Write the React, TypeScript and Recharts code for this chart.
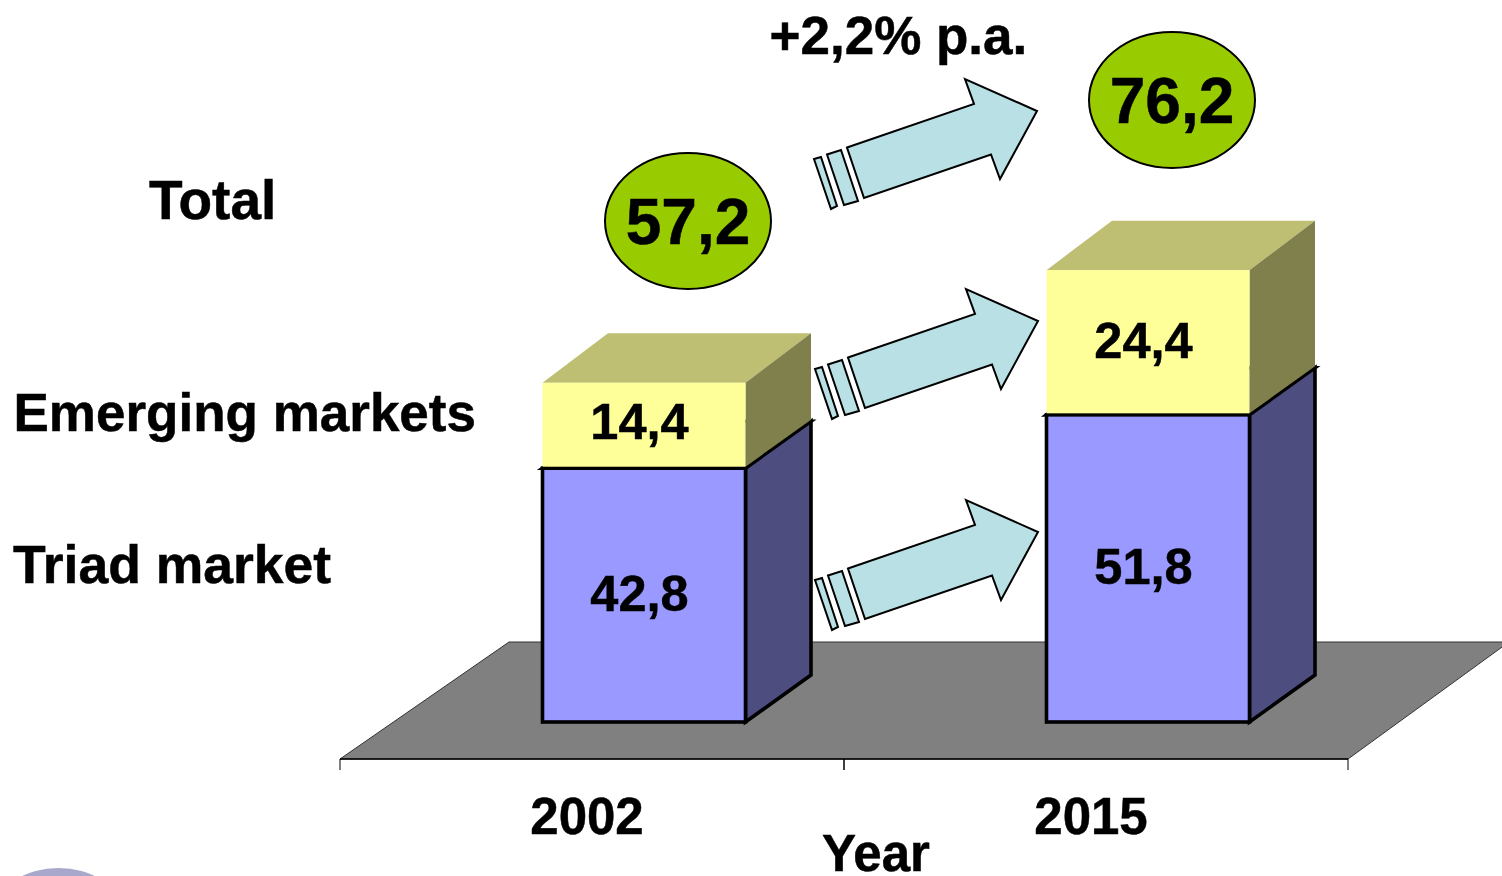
import { BarChart, Bar, XAxis, YAxis, LabelList, Label } from 'recharts';

const YEARS = ['2002', '2015'];
const TRIAD = [42.8, 51.8];
const EMERGING = [14.4, 24.4];
const TOTALS = ['57,2', '76,2'];
const ROW_LABELS = ['Total', 'Emerging markets', 'Triad market'];
const GROWTH_LABEL = '+2,2% p.a.';

const chartData = YEARS.map((year, i) => ({ year, triad: TRIAD[i], emerging: EMERGING[i] }));

const FONT = '"Liberation Sans", Arial, sans-serif';
// Bars stand in the middle of the floor, so everything is shifted back from the axis
const SHIFT_X = 51.5;
const SHIFT_Y = -37;
const DEPTH_X = 65.5;
const DEPTH_Y = -47;
const BAND = 504;

const ARROW_OFFSETS = [
  [0, 0],
  [0, -211],
  [-1, -421],
];

function Box3D(props: any) {
  const { x, y, width, height, front, top, side, outlined } = props;
  const l = x + SHIFT_X;
  const r = l + width;
  const t = y + SHIFT_Y;
  // keep the outline of the box underneath visible
  const b = t + height - (outlined ? 0 : 1.5);
  // the upper box rises a little more than the lower one
  const rise = outlined ? DEPTH_Y : DEPTH_Y - 2.5;
  const stroke = outlined ? '#000' : 'none';
  const sw = outlined ? 3.6 : 0;
  return (
    <g>
      <polygon
        points={`${l},${t} ${l + DEPTH_X},${t + rise} ${r + DEPTH_X},${t + rise} ${r},${t}`}
        fill={top}
        stroke={stroke}
        strokeWidth={sw}
      />
      <polygon
        points={`${r},${t} ${r + DEPTH_X},${t + rise} ${r + DEPTH_X},${b + DEPTH_Y} ${r},${b}`}
        fill={side}
        stroke={stroke}
        strokeWidth={sw}
      />
      <rect x={l} y={t} width={width} height={b - t} fill={front} stroke={stroke} strokeWidth={sw} />
    </g>
  );
}

function ValueLabel(props: any) {
  const { x, y, width, height, value } = props;
  // the 14,4 label sits a bit above the middle of its short box
  const nudge = height < 100 ? -3 : 0;
  return (
    <text
      x={x + SHIFT_X + width / 2 - 4.5}
      y={y + SHIFT_Y + height / 2 + 16 + nudge}
      textAnchor="middle"
      fontFamily={FONT}
      fontWeight="bold"
      fontSize={50.5}
      fill="#000"
      stroke="#000"
      strokeWidth={0.5}
    >
      {String(value).replace('.', ',')}
    </text>
  );
}

function YearTick(props: any) {
  const { x, payload } = props;
  return (
    <g>
      <line x1={x - BAND / 2} x2={x - BAND / 2} y1={759} y2={770} stroke="#000" strokeWidth={1} />
      <line x1={x + BAND / 2} x2={x + BAND / 2} y1={759} y2={770} stroke="#000" strokeWidth={1} />
      <text
        x={x - 5}
        y={834}
        textAnchor="middle"
        fontFamily={FONT}
        fontWeight="bold"
        fontSize={51}
        fill="#000"
        stroke="#000"
        strokeWidth={0.5}
      >
        {payload.value}
      </text>
    </g>
  );
}

function GrowthArrow({ dx, dy }: { dx: number; dy: number }) {
  return (
    <g transform={`translate(${dx},${dy})`} fill="#B9E0E4" stroke="#000" strokeWidth={2} strokeLinejoin="miter">
      <polygon points="848,568.5 975,525 966,500 1038,532 1001,600 992,575.5 865,619" />
      <polygon points="828,575.5 842,571 859,622 845,626" />
      <polygon points="815,580 822,578 838,627 832,630" />
    </g>
  );
}

function TotalBadge({ cx, cy, value }: { cx: number; cy: number; value: string }) {
  return (
    <g>
      <ellipse cx={cx} cy={cy} rx={83} ry={68} fill="#99CC00" stroke="#000" strokeWidth={2} />
      <text
        x={cx}
        y={cy + 23}
        textAnchor="middle"
        fontFamily={FONT}
        fontWeight="bold"
        fontSize={64}
        fill="#000"
        stroke="#000"
        strokeWidth={0.5}
      >
        {value}
      </text>
    </g>
  );
}

function SideText({ x, y, size = 53, children }: { x: number; y: number; size?: number; children: string }) {
  return (
    <text x={x} y={y} fontFamily={FONT} fontWeight="bold" fontSize={size} fill="#000" stroke="#000" strokeWidth={0.5}>
      {children}
    </text>
  );
}

export default function App() {
  return (
    <div style={{ position: 'absolute', left: 0, top: 0, width: 1502, height: 876, overflow: 'hidden', background: '#fff' }}>
      <BarChart
        width={1502}
        height={876}
        data={chartData}
        barSize={203}
        margin={{ top: 166, right: 154, bottom: 0, left: 340 }}
      >
        {/* floor */}
        <polygon points="340,759 1348,759 1509,642 509,642" fill="#808080" stroke="#333" strokeWidth={1} />
        <XAxis
          dataKey="year"
          height={117}
          axisLine={{ stroke: '#000', strokeWidth: 1.5 }}
          tickLine={false}
          interval={0}
          tick={<YearTick />}
        >
          <Label
            value="Year"
            position="insideBottom"
            dx={32}
            dy={0}
            fontFamily={FONT}
            fontWeight="bold"
            fontSize={51}
            fill="#000"
            stroke="#000"
            strokeWidth={0.5}
          />
        </XAxis>
        <YAxis hide domain={[0, 100]} />
        <Bar
          dataKey="triad"
          stackId="market"
          isAnimationActive={false}
          shape={<Box3D front="#9999FF" top="#7A7ACC" side="#4D4D80" outlined />}
        >
          <LabelList dataKey="triad" content={<ValueLabel />} />
        </Bar>
        <Bar
          dataKey="emerging"
          stackId="market"
          isAnimationActive={false}
          shape={<Box3D front="#FFFF99" top="#BFBF73" side="#80804D" outlined={false} />}
        >
          <LabelList dataKey="emerging" content={<ValueLabel />} />
        </Bar>
        {ARROW_OFFSETS.map(([dx, dy]) => (
          <GrowthArrow key={dy} dx={dx} dy={dy} />
        ))}
        <TotalBadge cx={688} cy={221} value={TOTALS[0]} />
        <TotalBadge cx={1172} cy={100} value={TOTALS[1]} />
        <SideText x={149} y={219} size={55}>{ROW_LABELS[0]}</SideText>
        <SideText x={13.5} y={431}>{ROW_LABELS[1]}</SideText>
        <SideText x={13} y={583} size={53.5}>{ROW_LABELS[2]}</SideText>
        <SideText x={769.5} y={54}>{GROWTH_LABEL}</SideText>
        {/* top of the logo that is cut off by the page */}
        <ellipse cx={58.5} cy={907} rx={60} ry={39} fill="#A8A8CC" />
      </BarChart>
    </div>
  );
}
